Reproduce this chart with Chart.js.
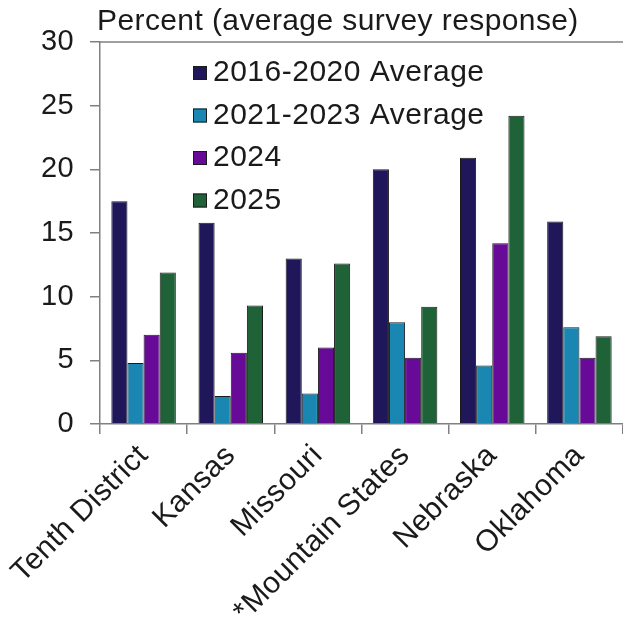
<!DOCTYPE html>
<html><head><meta charset="utf-8">
<script src="https://cdn.jsdelivr.net/npm/chart.js@4/dist/chart.umd.min.js"></script>
<style>html,body{margin:0;padding:0;background:#fff}#wrap{width:623px;height:624px;position:relative}</style>
</head><body><div id="wrap"><canvas id="c" width="623" height="624"></canvas></div>
<script>
const categories = ["Tenth District","Kansas","Missouri","*Mountain States","Nebraska","Oklahoma"];
const seriesNames = ["2016-2020 Average","2021-2023 Average","2024","2025"];
const avg2016_2020 = [17.5, 15.8, 13.0, 20.0, 20.9, 15.9];
const avg2021_2023 = [4.8, 2.2, 2.4, 8.0, 4.6, 7.6];
const y2024 = [7.0, 5.6, 6.0, 5.2, 14.2, 5.2];
const y2025 = [11.9, 9.3, 12.6, 9.2, 24.2, 6.9];
const yTicks = [0,5,10,15,20,25,30];
const titleText = "Percent (average survey response)";
const colors = ["#1f175a","#1a87b3","#680a98","#206238"];
const FONT = "'Liberation Sans', Arial, sans-serif";

const values = [avg2016_2020, avg2021_2023, y2024, y2025];
const datasets = seriesNames.map((n,i)=>({
  label:n, data:values[i], backgroundColor:colors[i],
  borderColor:"#1b1b1b", borderWidth:1,
  categoryPercentage:0.74, barPercentage:1.0
}));

const extras = {
  id:'extras',
  beforeDraw(chart){ chart.ctx.letterSpacing = '0.4px'; },
  afterDraw(chart){
    const ctx = chart.ctx, a = chart.chartArea;
    ctx.save();
    // top border
    ctx.strokeStyle = "#808080"; ctx.lineWidth = 1.5;
    ctx.beginPath(); ctx.moveTo(a.left, a.top); ctx.lineTo(a.right, a.top); ctx.stroke();
    // title
    ctx.fillStyle = "#1a1a1a";
    ctx.letterSpacing = '0.4px';
    ctx.font = "30px " + FONT;
    ctx.textBaseline = "middle"; ctx.textAlign = "left";
    ctx.fillText(titleText, a.left - 3, 22);
    // legend
    ctx.letterSpacing = '0.5px';
    ctx.font = "30px " + FONT;
    chart.data.datasets.forEach((d,i)=>{
      const y = 73 + i*42.5;
      ctx.fillStyle = d.backgroundColor;
      ctx.fillRect(193, y-7, 14, 14);
      ctx.strokeStyle = "#1b1b1b"; ctx.lineWidth = 1;
      ctx.strokeRect(193.5, y-6.5, 13, 13);
      ctx.fillStyle = "#1a1a1a";
      ctx.fillText(d.label, 213, y);
    });
    ctx.restore();
    ctx.letterSpacing = '0px';
  }
};

new Chart(document.getElementById('c'), {
  type:'bar',
  data:{labels:categories, datasets},
  options:{
    responsive:false, animation:false,
    layout:{padding:{top:42,left:0,right:0,bottom:0}},
    plugins:{legend:{display:false}, title:{display:false}, tooltip:{enabled:false}},
    scales:{
      x:{
        grid:{display:true, drawOnChartArea:false, offset:true, color:"#808080", tickLength:10, lineWidth:1.5},
        border:{display:true, color:"#808080", width:1.5},
        ticks:{color:"#1a1a1a", font:{family:FONT, size:30}, maxRotation:45, minRotation:45, padding:4, autoSkip:false},
        afterFit(s){ s.height = 200; }
      },
      y:{
        min:0, max:30,
        afterBuildTicks(s){ s.ticks = yTicks.map(v=>({value:v})); },
        grid:{display:true, drawOnChartArea:false, color:"#808080", tickLength:10, lineWidth:1.5},
        border:{display:true, color:"#808080", width:1.5},
        ticks:{color:"#1a1a1a", font:{family:FONT, size:29}, padding:16},
        afterFit(s){ s.width = 100; }
      }
    }
  },
  plugins:[extras]
});
</script></body></html>
